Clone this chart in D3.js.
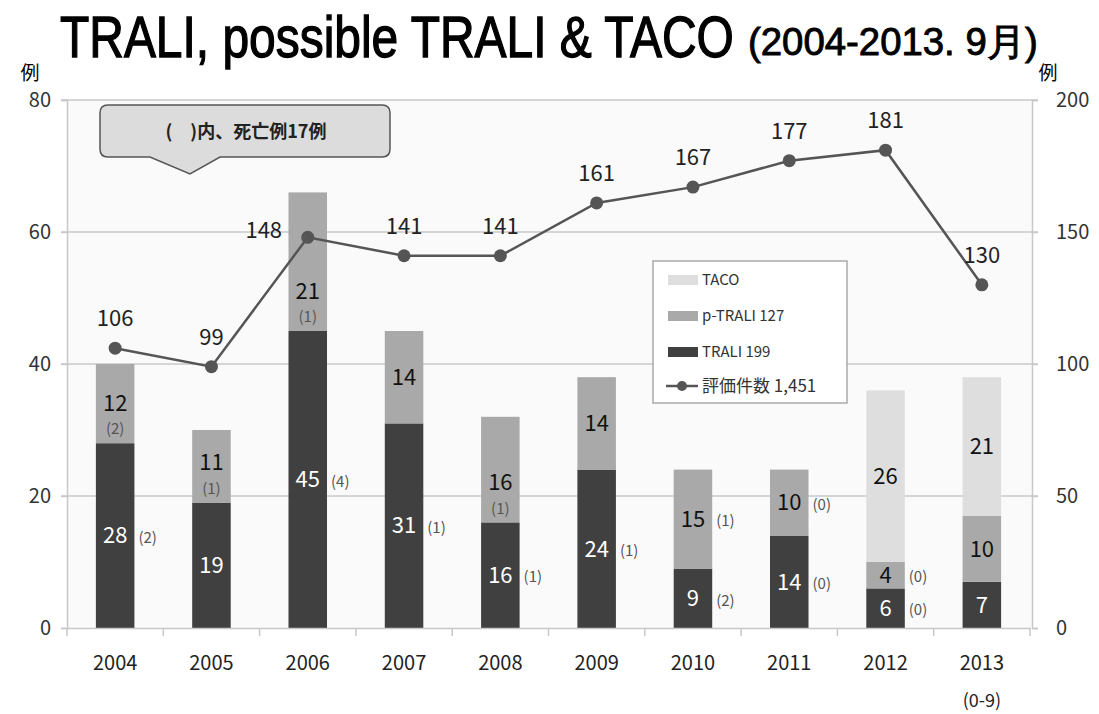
<!DOCTYPE html>
<html>
<head>
<meta charset="utf-8">
<script src="https://cdn.jsdelivr.net/npm/d3@7"></script>
<style>
  body { margin: 0; background: #fff; }
  svg { display: block; }
</style>
</head>
<body>
<div id="chart"></div>
<script>
// TRALI / possible TRALI / TACO by year, with evaluated cases on right axis
const years = ["2004", "2005", "2006", "2007", "2008", "2009", "2010", "2011", "2012", "2013"];
const trali = [28, 19, 45, 31, 16, 24, 9, 14, 6, 7];
const pTrali = [12, 11, 21, 14, 16, 14, 15, 10, 4, 10];
const taco = [0, 0, 0, 0, 0, 0, 0, 0, 26, 21];
const evaluated = [106, 99, 148, 141, 141, 161, 167, 177, 181, 130];
// deaths shown in brackets (null = no label)
const traliDeaths = [2, null, 4, 1, 1, 1, 2, 0, 0, null];
const pTraliDeaths = [2, 1, 1, null, 1, null, 1, 0, 0, null];
const leftTicks = [0, 20, 40, 60, 80];
const rightTicks = [0, 50, 100, 150, 200];

const width = 1099, height = 714;
const plotLeft = 67, plotRight = 1030, plotTop = 100, plotBottom = 628;
const font = "'Noto Sans CJK JP', 'Noto Sans', sans-serif";
const narrow = "'Liberation Sans Narrow', 'Liberation Sans', sans-serif";

const colors = { trali: "#404040", ptrali: "#a9a9a9", taco: "#dedede", line: "#555" };

const svg = d3.select("#chart").append("svg")
  .attr("width", width)
  .attr("height", height)
  .attr("font-family", font);

const x = d3.scaleBand().domain(years).range([plotLeft, plotRight]).paddingInner(0.6).paddingOuter(0.3);
const y = d3.scaleLinear().domain([0, 80]).range([plotBottom, plotTop]);
const y2 = d3.scaleLinear().domain([0, 200]).range([plotBottom, plotTop]);
const step = x.step();

// title: squeeze horizontally to fit the condensed look
function fitText(tx, ty, size, strokeW, w, str) {
  const t = svg.append("text")
    .attr("font-family", narrow)
    .attr("font-size", size)
    .attr("stroke", "#000").attr("stroke-width", strokeW)
    .text(str);
  const len = t.node().getComputedTextLength();
  t.attr("transform", `translate(${tx},${ty}) scale(${w / len},1)`);
}
fitText(60, 57, 58, 1.3, 674, "TRALI, possible TRALI & TACO");
fitText(748, 55, 38, 0.9, 290, "(2004-2013. 9月)");

// unit labels
svg.append("text").attr("x", 30).attr("y", 80).attr("font-size", 19).attr("text-anchor", "middle").text("例");
svg.append("text").attr("x", 1048).attr("y", 80).attr("font-size", 19).attr("text-anchor", "middle").text("例");

// plot background
svg.append("rect")
  .attr("x", plotLeft).attr("y", plotTop)
  .attr("width", plotRight - plotLeft + 2).attr("height", plotBottom - plotTop)
  .attr("fill", "#fafafa");

// gridlines
svg.append("g")
  .selectAll("line")
  .data(leftTicks.slice(1))
  .join("line")
  .attr("x1", plotLeft - 6).attr("x2", plotRight + 8)
  .attr("y1", d => y(d)).attr("y2", d => y(d))
  .attr("stroke", "#c8c8c8").attr("stroke-width", 1.5);

// left axis
const yAxis = svg.append("g")
  .attr("transform", `translate(${plotLeft},0)`)
  .call(d3.axisLeft(y).tickValues(leftTicks).tickSize(6).tickPadding(10));
yAxis.select(".domain").attr("stroke", "#c8c8c8").attr("stroke-width", 1.5);
yAxis.selectAll(".tick line").attr("stroke", "#c8c8c8").attr("stroke-width", 1.5);
yAxis.selectAll("text").attr("font-size", 20).attr("fill", "#333").attr("font-family", font);

// right axis
const yAxis2 = svg.append("g")
  .attr("transform", `translate(${plotRight + 2},0)`)
  .call(d3.axisRight(y2).tickValues(rightTicks).tickSize(6).tickPadding(18));
yAxis2.select(".domain").attr("stroke", "#c8c8c8").attr("stroke-width", 1.5);
yAxis2.selectAll(".tick line").attr("stroke", "#c8c8c8").attr("stroke-width", 1.5);
yAxis2.selectAll("text").attr("font-size", 20).attr("fill", "#333").attr("font-family", font);

// stacked bars
const rows = years.map((yr, i) => ({ year: yr, trali: trali[i], ptrali: pTrali[i], taco: taco[i], i }));
const keys = ["trali", "ptrali", "taco"];
const stack = d3.stack().keys(keys)(rows);

svg.append("g")
  .selectAll("g")
  .data(stack)
  .join("g")
  .attr("fill", d => colors[d.key])
  .selectAll("rect")
  .data(d => d.filter(s => s[1] > s[0]))
  .join("rect")
  .attr("x", d => x(d.data.year))
  .attr("y", d => y(d[1]))
  .attr("width", x.bandwidth())
  .attr("height", d => y(d[0]) - y(d[1]));

// x axis
const xAxis = svg.append("g")
  .attr("transform", `translate(0,${plotBottom})`)
  .call(d3.axisBottom(x).tickSize(0).tickPadding(28));
xAxis.select(".domain").attr("stroke", "#c8c8c8").attr("stroke-width", 1.5);
xAxis.selectAll("text").attr("font-size", 20).attr("fill", "#222").attr("font-family", font);
svg.append("g")
  .selectAll("line")
  .data(d3.range(years.length + 1))
  .join("line")
  .attr("x1", i => plotLeft + i * step).attr("x2", i => plotLeft + i * step)
  .attr("y1", plotBottom).attr("y2", plotBottom + 8)
  .attr("stroke", "#c8c8c8").attr("stroke-width", 1.5);
svg.append("text")
  .attr("x", x("2013") + x.bandwidth() / 2).attr("y", 707)
  .attr("text-anchor", "middle").attr("font-size", 18).attr("fill", "#222")
  .text("(0-9)");

// bar value labels
const labels = svg.append("g").attr("text-anchor", "middle").attr("font-size", 22);
stack.forEach(layer => {
  layer.forEach(d => {
    const v = d[1] - d[0];
    if (v <= 0) return;
    const cx = x(d.data.year) + x.bandwidth() / 2;
    const cy = (y(d[0]) + y(d[1])) / 2;
    const segBottom = y(d[0]);
    const i = d.data.i;
    const inlineDeath = layer.key === "ptrali" && pTraliDeaths[i] !== null && i < 5;
    labels.append("text")
      .attr("x", cx)
      .attr("y", inlineDeath ? segBottom - 40 : cy)
      .attr("dy", "0.35em")
      .attr("fill", layer.key === "trali" ? "#fff" : "#111")
      .text(v);
    let death = null;
    if (layer.key === "trali") death = traliDeaths[i];
    if (layer.key === "ptrali") death = pTraliDeaths[i];
    if (death === null) return;
    if (inlineDeath) {
      labels.append("text")
        .attr("x", cx).attr("y", segBottom - 14).attr("dy", "0.35em")
        .attr("font-size", 15).attr("fill", "#555")
        .text(`(${death})`);
    } else {
      labels.append("text")
        .attr("x", x(d.data.year) + x.bandwidth() + 4).attr("y", cy + 2).attr("dy", "0.35em")
        .attr("text-anchor", "start")
        .attr("font-size", 15).attr("fill", "#555")
        .text(`(${death})`);
    }
  });
});

// evaluated cases line
const cx = d => x(d.year) + x.bandwidth() / 2;
const lineData = years.map((yr, i) => ({ year: yr, v: evaluated[i] }));
svg.append("path")
  .datum(lineData)
  .attr("fill", "none")
  .attr("stroke", colors.line)
  .attr("stroke-width", 2.5)
  .attr("d", d3.line().x(cx).y(d => y2(d.v)));
svg.append("g")
  .selectAll("circle")
  .data(lineData)
  .join("circle")
  .attr("cx", cx).attr("cy", d => y2(d.v))
  .attr("r", 6.5)
  .attr("fill", colors.line);
svg.append("g")
  .attr("font-size", 22).attr("text-anchor", "middle").attr("fill", "#222")
  .selectAll("text")
  .data(lineData)
  .join("text")
  .attr("x", d => d.year === "2006" ? cx(d) - 44 : cx(d))
  .attr("y", d => d.year === "2006" ? y2(d.v) + 1 : y2(d.v) - 22)
  .text(d => d.v);

// callout
const callout = svg.append("g");
callout.append("path")
  .attr("d", "M108,105 H382 Q390,105 390,113 V149 Q390,157 382,157 H220 L190,174 L150,157 H108 Q100,157 100,149 V113 Q100,105 108,105 Z")
  .attr("fill", "#dcdcdc").attr("stroke", "#555").attr("stroke-width", 1.5);
callout.append("text")
  .attr("x", 246).attr("y", 138)
  .attr("text-anchor", "middle").attr("font-size", 18).attr("font-weight", "bold").attr("fill", "#222")
  .text("(　)内、死亡例17例");

// legend
const legend = svg.append("g");
legend.append("rect")
  .attr("x", 653).attr("y", 261).attr("width", 194).attr("height", 142)
  .attr("fill", "#fff").attr("stroke", "#aaa").attr("stroke-width", 1.5);
const legendItems = [
  { label: "TACO", color: colors.taco },
  { label: "p-TRALI 127", color: colors.ptrali },
  { label: "TRALI  199", color: colors.trali }
];
legendItems.forEach((d, i) => {
  const ly = 280 + i * 36;
  legend.append("rect").attr("x", 668).attr("y", ly - 5).attr("width", 30).attr("height", 10).attr("fill", d.color);
  legend.append("text").attr("x", 702).attr("y", ly).attr("dy", "0.35em")
    .attr("font-size", 15).attr("fill", "#333").text(d.label);
});
legend.append("line").attr("x1", 666).attr("x2", 698).attr("y1", 386).attr("y2", 386)
  .attr("stroke", colors.line).attr("stroke-width", 2.5);
legend.append("circle").attr("cx", 682).attr("cy", 386).attr("r", 5).attr("fill", colors.line);
legend.append("text").attr("x", 702).attr("y", 386).attr("dy", "0.35em")
  .attr("font-size", 17).attr("fill", "#333").text("評価件数 1,451");
</script>
</body>
</html>
